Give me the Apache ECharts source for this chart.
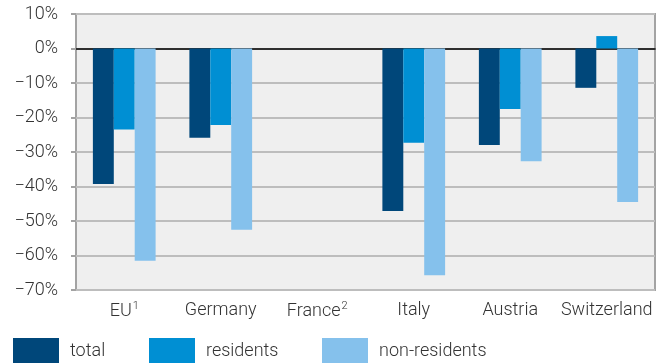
<!DOCTYPE html>
<html><head><meta charset="utf-8">
<script src="https://cdn.jsdelivr.net/npm/echarts@6/dist/echarts.min.js"></script>
<style>html,body{margin:0;padding:0;background:#fff}#c{width:668px;height:363px}</style>
</head><body><div id="c"></div>
<script>
const categories = ['EU{s|1}', 'Germany', 'France{s|2}', 'Italy', 'Austria', 'Switzerland'];
const total = [-39.3, -25.9, null, -47.1, -28.0, -11.4];
const residents = [-23.5, -22.2, null, -27.3, -17.5, 3.6];
const nonResidents = [-61.5, -52.5, null, -65.7, -32.7, -44.5];
const seriesNames = ['total', 'residents', 'non-residents'];
const yTicks = { min: -70, max: 10, interval: 10 };

const FONT = 'Roboto';
const legendLefts = [8, 144, 317];
const legendStyle = (i) => ({
  left: legendLefts[i], top: 333, itemWidth: 46, itemHeight: 26,
  icon: 'rect',
  textStyle: { fontFamily: FONT, fontWeight: 300, fontSize: 18, color: '#333', padding: [0, 0, 0, 6] },
  data: [seriesNames[i]]
});
const chart = echarts.init(document.getElementById('c'), null, { renderer: 'canvas' });
chart.setOption({
  animation: false,
  textStyle: { fontFamily: FONT },
  grid: { left: 76, right: 13, top: 14, bottom: 73, show: true, backgroundColor: '#EFEFEF', borderColor: '#A3A3A3', borderWidth: 2 },
  legend: [legendStyle(0), legendStyle(1), legendStyle(2)],
  xAxis: {
    type: 'category', data: categories,
    axisLine: { show: true, onZero: true, lineStyle: { color: '#000', width: 1.5 } },
    axisTick: { show: false },
    axisLabel: {
      interval: 0, margin: 11, fontSize: 18, fontFamily: FONT, fontWeight: 300, color: '#333',
      rich: { s: { fontSize: 11, verticalAlign: 'top', padding: [0, 0, 9, 1], fontFamily: FONT, fontWeight: 300, color: '#333' } }
    },
    splitLine: { show: false }
  },
  yAxis: {
    type: 'value', min: yTicks.min, max: yTicks.max, interval: yTicks.interval,
    axisLine: { show: false },
    axisTick: { show: true, inside: false, length: 5, lineStyle: { color: '#A3A3A3', width: 2 } },
    axisLabel: {
      margin: 18, fontSize: 18, fontFamily: FONT, fontWeight: 300, color: '#333',
      formatter: v => (v < 0 ? '\u2212' + Math.abs(v) : v) + '%'
    },
    splitLine: { show: true, lineStyle: { color: '#BDBDBD', width: 2 } }
  },
  series: [
    { name: 'total', type: 'bar', data: total, itemStyle: { color: '#00477A' }, barGap: '0%', barCategoryGap: '35%' },
    { name: 'residents', type: 'bar', data: residents, itemStyle: { color: '#008FD3' } },
    { name: 'non-residents', type: 'bar', data: nonResidents, itemStyle: { color: '#85C1EC' } }
  ]
});
</script></body></html>
